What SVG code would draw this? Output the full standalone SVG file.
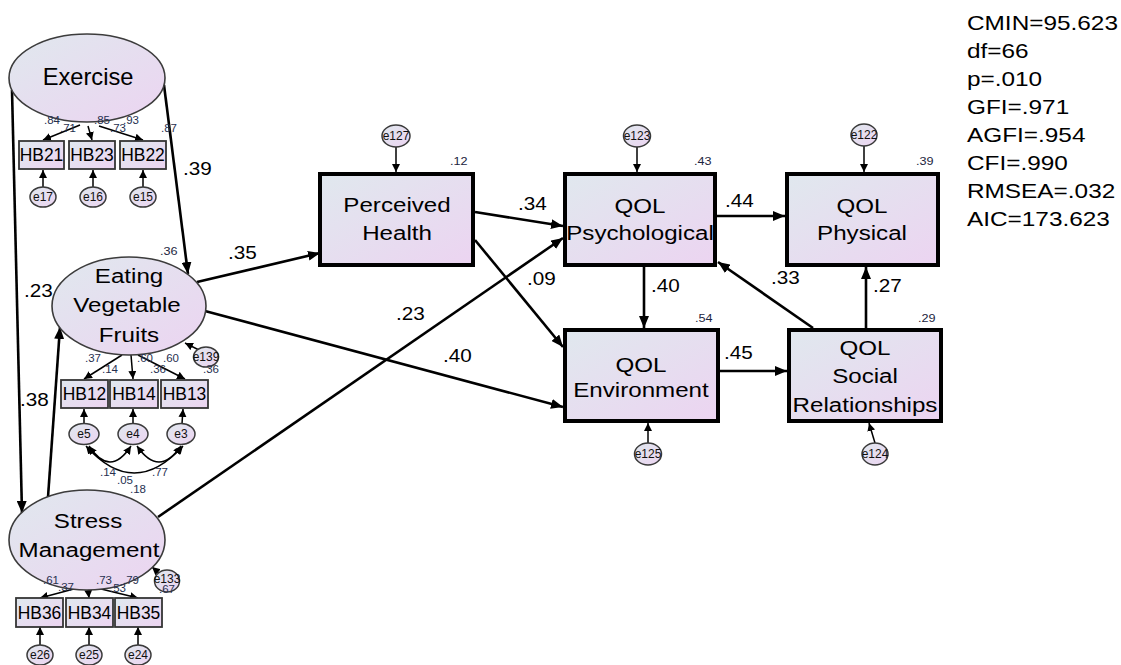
<svg xmlns="http://www.w3.org/2000/svg" width="1121" height="665" viewBox="0 0 1121 665">
  <defs>
    <linearGradient id="fillGrad" x1="0" y1="0" x2="1" y2="1">
      <stop offset="0" stop-color="#e0e8ee"/>
      <stop offset="1" stop-color="#ecd4f1"/>
    </linearGradient>
    <marker id="bigHead" markerUnits="userSpaceOnUse" markerWidth="14" markerHeight="10" refX="12" refY="5" orient="auto">
      <path d="M0,0 L12,5 L0,10 Z" fill="#000"/>
    </marker>
    <marker id="smallHead" markerUnits="userSpaceOnUse" markerWidth="10" markerHeight="8" refX="8" refY="4" orient="auto-start-reverse">
      <path d="M0,0 L8,4 L0,8 Z" fill="#000"/>
    </marker>
    <style>
      text { font-family: "Liberation Sans", Arial, sans-serif; fill: #000; }
      .node { font-size: 21px; text-anchor: middle; }
      .coef { font-size: 18px; }
      .r2 { font-size: 11px; fill: #1c2540; }
      .ld { font-size: 10px; fill: #26304f; }
      .obs { font-size: 18px; text-anchor: middle; }
      .err { font-size: 12px; text-anchor: middle; fill: #111; }
      .stat { font-size: 21px; }
      .latent { fill: url(#fillGrad); stroke: #3c3c3c; stroke-width: 1.6; }
      .box { fill: url(#fillGrad); stroke: #000; stroke-width: 4; }
      .ind { fill: url(#fillGrad); stroke: #353535; stroke-width: 1.8; }
      .ecirc { fill: url(#fillGrad); stroke: #3a3a3a; stroke-width: 1.5; }
      .path { fill: none; stroke: #000; stroke-width: 2.6; marker-end: url(#bigHead); }
      .thin { fill: none; stroke: #000; stroke-width: 1.5; marker-end: url(#smallHead); }
      .cov { fill: none; stroke: #000; stroke-width: 1.5; marker-start: url(#smallHead); marker-end: url(#smallHead); }
    </style>
  </defs>

  <rect width="1121" height="665" fill="#fff"/>

  <!-- structural paths and measurement arrows -->
  <g id="connectors">
    <path class="path" d="M12,90 L22,513"/>
    <path class="path" d="M48,497 L60,327"/>
    <path class="path" d="M164,85 L188,274"/>
    <path class="path" d="M197,282 L320,253"/>
    <path class="path" d="M205,311 L563,407"/>
    <path class="path" d="M158,517 L563,238"/>
    <path class="path" d="M475,212 L563,226"/>
    <path class="path" d="M475,240 L563,347"/>
    <path class="path" d="M717,216 L785,216"/>
    <path class="path" d="M644,267 L644,328"/>
    <path class="path" d="M720,371 L787,371"/>
    <path class="path" d="M813,328 L718,262"/>
    <path class="path" d="M866,328 L866,267"/>

    <!-- loadings -->
    <path class="thin" d="M80,125 L43,140"/>
    <path class="thin" d="M88,126 L92,140"/>
    <path class="thin" d="M99,126 L143,140"/>
    <path class="thin" d="M122,355 L84,379"/>
    <path class="thin" d="M131,355 L133,379"/>
    <path class="thin" d="M138,355 L185,379"/>
    <path class="thin" d="M85,586 L40,598"/>
    <path class="thin" d="M88,588 L89,598"/>
    <path class="thin" d="M97,588 L138,598"/>

    <!-- error terms -->
    <path class="thin" d="M43,187 L43,170"/>
    <path class="thin" d="M93,187 L93,170"/>
    <path class="thin" d="M143,187 L143,170"/>
    <path class="thin" d="M84,424 L84,409"/>
    <path class="thin" d="M133,424 L133,409"/>
    <path class="thin" d="M182,424 L183,409"/>
    <path class="thin" d="M40,645 L40,627"/>
    <path class="thin" d="M89,645 L89,627"/>
    <path class="thin" d="M138,645 L138,627"/>
    <path class="thin" d="M199,350 L185,343"/>
    <path class="thin" d="M160,574 L152,567"/>
    <path class="thin" d="M396,147 L396,172"/>
    <path class="thin" d="M637,147 L637,172"/>
    <path class="thin" d="M864,146 L864,172"/>
    <path class="thin" d="M648,443 L648,423"/>
    <path class="thin" d="M875,443 L869,423"/>

    <!-- error covariances -->
    <path class="cov" d="M89,446 Q110,478 131,446"/>
    <path class="cov" d="M137,446 Q159,478 181,446"/>
    <path class="cov" d="M86,446 Q134,500 183,446"/>
  </g>

  <g id="exercise">
    <ellipse class="latent" cx="87" cy="78" rx="78" ry="44"/>
    <text class="node" style="font-size:23px" transform="translate(88,85) scale(1.03,1)">Exercise</text>
  </g>
  <g id="hb21"><rect class="ind" x="19" y="141" width="45" height="28"/><text class="obs" transform="translate(41.5,161) scale(0.97,1)">HB21</text></g>
  <g id="hb23"><rect class="ind" x="69" y="141" width="46" height="28"/><text class="obs" transform="translate(92,161) scale(0.97,1)">HB23</text></g>
  <g id="hb22"><rect class="ind" x="120" y="141" width="46" height="28"/><text class="obs" transform="translate(143,161) scale(0.97,1)">HB22</text></g>
  <g id="e17"><ellipse class="ecirc" cx="43" cy="197" rx="13" ry="10"/><text class="err" x="43" y="201">e17</text></g>
  <g id="e16"><ellipse class="ecirc" cx="93" cy="197" rx="13" ry="10"/><text class="err" x="93" y="201">e16</text></g>
  <g id="e15"><ellipse class="ecirc" cx="143" cy="197" rx="13" ry="10"/><text class="err" x="143" y="201">e15</text></g>

  <g id="eating">
    <ellipse class="latent" cx="129" cy="306" rx="77" ry="49"/>
    <text class="node" transform="translate(129,283) scale(1.15,1)">Eating</text>
    <text class="node" transform="translate(127,312) scale(1.15,1)">Vegetable</text>
    <text class="node" transform="translate(129,342) scale(1.15,1)">Fruits</text>
  </g>
  <g id="e139"><ellipse class="ecirc" cx="206" cy="357" rx="12.5" ry="10"/><text class="err" x="206" y="361">e139</text></g>
  <g id="hb12"><rect class="ind" x="61" y="380" width="47" height="28"/><text class="obs" transform="translate(84.5,400) scale(0.97,1)">HB12</text></g>
  <g id="hb14"><rect class="ind" x="110" y="380" width="48" height="28"/><text class="obs" transform="translate(134,400) scale(0.97,1)">HB14</text></g>
  <g id="hb13"><rect class="ind" x="161" y="380" width="47" height="28"/><text class="obs" transform="translate(184.5,400) scale(0.97,1)">HB13</text></g>
  <g id="e5"><ellipse class="ecirc" cx="84" cy="434" rx="15" ry="10.5"/><text class="err" x="84" y="438">e5</text></g>
  <g id="e4"><ellipse class="ecirc" cx="133" cy="434" rx="15" ry="10.5"/><text class="err" x="133" y="438">e4</text></g>
  <g id="e3"><ellipse class="ecirc" cx="181" cy="434" rx="14" ry="10.5"/><text class="err" x="181" y="438">e3</text></g>

  <g id="stress">
    <ellipse class="latent" cx="87" cy="540" rx="78" ry="50"/>
    <text class="node" transform="translate(88,528) scale(1.15,1)">Stress</text>
    <text class="node" transform="translate(89,557) scale(1.15,1)">Management</text>
  </g>
  <g id="e133"><ellipse class="ecirc" cx="167" cy="581" rx="12.5" ry="11"/><text class="err" x="167" y="583">e133</text></g>
  <g id="hb36"><rect class="ind" x="16" y="598" width="47" height="29"/><text class="obs" transform="translate(39.5,619) scale(0.97,1)">HB36</text></g>
  <g id="hb34"><rect class="ind" x="66" y="598" width="47" height="29"/><text class="obs" transform="translate(89.5,619) scale(0.97,1)">HB34</text></g>
  <g id="hb35"><rect class="ind" x="115" y="598" width="47" height="29"/><text class="obs" transform="translate(138.5,619) scale(0.97,1)">HB35</text></g>
  <g id="e26"><ellipse class="ecirc" cx="40" cy="655" rx="13" ry="10"/><text class="err" x="40" y="659">e26</text></g>
  <g id="e25"><ellipse class="ecirc" cx="89" cy="655" rx="13" ry="10"/><text class="err" x="89" y="659">e25</text></g>
  <g id="e24"><ellipse class="ecirc" cx="138" cy="655" rx="13" ry="10"/><text class="err" x="138" y="659">e24</text></g>

  <g id="perceived-health">
    <rect class="box" x="320" y="174" width="153" height="91"/>
    <text class="node" transform="translate(397,212) scale(1.15,1)">Perceived</text>
    <text class="node" transform="translate(397,240) scale(1.15,1)">Health</text>
  </g>
  <g id="e127"><ellipse class="ecirc" cx="396" cy="136" rx="14" ry="11"/><text class="err" x="396" y="140">e127</text></g>

  <g id="qol-psychological">
    <rect class="box" x="565" y="174" width="150" height="91"/>
    <text class="node" transform="translate(640,213) scale(1.15,1)">QOL</text>
    <text class="node" transform="translate(640,240) scale(1.15,1)">Psychological</text>
  </g>
  <g id="e123"><ellipse class="ecirc" cx="637" cy="136" rx="13.5" ry="11"/><text class="err" x="637" y="140">e123</text></g>

  <g id="qol-physical">
    <rect class="box" x="787" y="174" width="151" height="91"/>
    <text class="node" transform="translate(862,213) scale(1.15,1)">QOL</text>
    <text class="node" transform="translate(862,240) scale(1.15,1)">Physical</text>
  </g>
  <g id="e122"><ellipse class="ecirc" cx="864" cy="135" rx="13" ry="11"/><text class="err" x="864" y="139">e122</text></g>

  <g id="qol-environment">
    <rect class="box" x="565" y="330" width="153" height="91"/>
    <text class="node" transform="translate(641,372) scale(1.15,1)">QOL</text>
    <text class="node" transform="translate(641,397) scale(1.15,1)">Environment</text>
  </g>
  <g id="e125"><ellipse class="ecirc" cx="648" cy="454" rx="13.5" ry="11"/><text class="err" x="648" y="458">e125</text></g>

  <g id="qol-social">
    <rect class="box" x="789" y="330" width="152" height="91"/>
    <text class="node" transform="translate(865,355) scale(1.15,1)">QOL</text>
    <text class="node" transform="translate(865,383) scale(1.15,1)">Social</text>
    <text class="node" transform="translate(865,412) scale(1.15,1)">Relationships</text>
  </g>
  <g id="e124"><ellipse class="ecirc" cx="875" cy="454" rx="13" ry="11"/><text class="err" x="875" y="458">e124</text></g>

  <!-- path coefficients -->
  <g id="coefficients">
    <text class="coef" transform="translate(183,175) scale(1.15,1)">.39</text>
    <text class="coef" transform="translate(228,259) scale(1.15,1)">.35</text>
    <text class="coef" transform="translate(24,297) scale(1.15,1)">.23</text>
    <text class="coef" transform="translate(20,406) scale(1.15,1)">.38</text>
    <text class="coef" transform="translate(518,210) scale(1.15,1)">.34</text>
    <text class="coef" transform="translate(527,285) scale(1.15,1)">.09</text>
    <text class="coef" transform="translate(396,320) scale(1.15,1)">.23</text>
    <text class="coef" transform="translate(443,362) scale(1.15,1)">.40</text>
    <text class="coef" transform="translate(725,207) scale(1.15,1)">.44</text>
    <text class="coef" transform="translate(651,292) scale(1.15,1)">.40</text>
    <text class="coef" transform="translate(724,359) scale(1.15,1)">.45</text>
    <text class="coef" transform="translate(771,284) scale(1.15,1)">.33</text>
    <text class="coef" transform="translate(873,292) scale(1.15,1)">.27</text>
  </g>

  <!-- squared multiple correlations -->
  <g id="r-squared">
    <text class="r2" transform="translate(450,165) scale(1.15,1)">.12</text>
    <text class="r2" transform="translate(694,165) scale(1.15,1)">.43</text>
    <text class="r2" transform="translate(916,165) scale(1.15,1)">.39</text>
    <text class="r2" transform="translate(695,322) scale(1.15,1)">.54</text>
    <text class="r2" transform="translate(918,322) scale(1.15,1)">.29</text>
    <text class="r2" transform="translate(160,255) scale(1.15,1)">.36</text>
  </g>

  <!-- loadings and indicator estimates -->
  <g id="loadings">
    <text class="ld" transform="translate(44,124) scale(1.15,1)">.84</text>
    <text class="ld" transform="translate(60,132) scale(1.15,1)">.71</text>
    <text class="ld" transform="translate(94,124) scale(1.15,1)">.85</text>
    <text class="ld" transform="translate(110,132) scale(1.15,1)">.73</text>
    <text class="ld" transform="translate(123,124) scale(1.15,1)">.93</text>
    <text class="ld" transform="translate(161,132) scale(1.15,1)">.87</text>

    <text class="ld" transform="translate(85,362) scale(1.15,1)">.37</text>
    <text class="ld" transform="translate(102,373) scale(1.15,1)">.14</text>
    <text class="ld" transform="translate(137,362) scale(1.15,1)">.60</text>
    <text class="ld" transform="translate(163,362) scale(1.15,1)">.60</text>
    <text class="ld" transform="translate(150,373) scale(1.15,1)">.36</text>
    <text class="ld" transform="translate(203,373) scale(1.15,1)">.36</text>

    <text class="ld" transform="translate(100,476) scale(1.15,1)">.14</text>
    <text class="ld" transform="translate(152,476) scale(1.15,1)">.77</text>
    <text class="ld" transform="translate(117,484) scale(1.15,1)">.05</text>
    <text class="ld" transform="translate(130,493) scale(1.15,1)">.18</text>

    <text class="ld" transform="translate(43,584) scale(1.15,1)">.61</text>
    <text class="ld" transform="translate(58,591) scale(1.15,1)">.37</text>
    <text class="ld" transform="translate(96,584) scale(1.15,1)">.73</text>
    <text class="ld" transform="translate(110,592) scale(1.15,1)">.53</text>
    <text class="ld" transform="translate(123,584) scale(1.15,1)">.79</text>
    <text class="ld" transform="translate(159,593) scale(1.15,1)">.67</text>
  </g>

  <!-- fit statistics -->
  <g id="fit-stats">
    <text class="stat" transform="translate(967,30) scale(1.16,1)">CMIN=95.623</text>
    <text class="stat" transform="translate(967,58) scale(1.16,1)">df=66</text>
    <text class="stat" transform="translate(967,86) scale(1.16,1)">p=.010</text>
    <text class="stat" transform="translate(967,114) scale(1.16,1)">GFI=.971</text>
    <text class="stat" transform="translate(967,142) scale(1.16,1)">AGFI=.954</text>
    <text class="stat" transform="translate(967,170) scale(1.16,1)">CFI=.990</text>
    <text class="stat" transform="translate(967,198) scale(1.16,1)">RMSEA=.032</text>
    <text class="stat" transform="translate(967,226) scale(1.16,1)">AIC=173.623</text>
  </g>
</svg>
